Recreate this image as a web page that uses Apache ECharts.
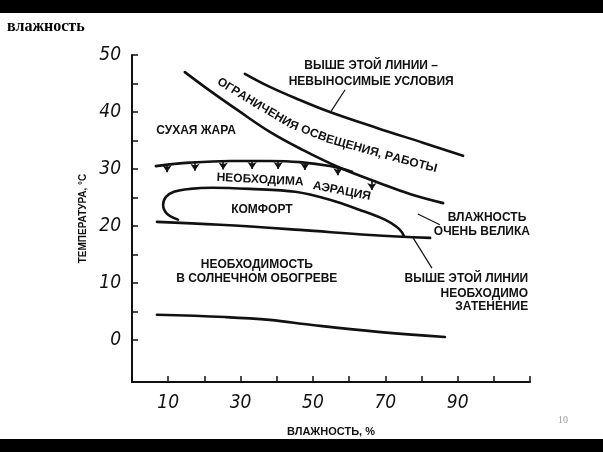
<!DOCTYPE html>
<html><head><meta charset="utf-8">
<script src="https://cdn.jsdelivr.net/npm/echarts@6/dist/echarts.min.js"></script>
<style>html,body{margin:0;padding:0;background:#fff}#c{width:603px;height:452px}</style>
</head><body><div id="c"></div>
<script>
// ---- data (x = влажность %, y = температура °C) ----
const xTickLabels = [10, 30, 50, 70, 90];
const yTickLabels = [0, 10, 20, 30, 40, 50];
const yTickMarks = [0, 5, 10, 15, 20, 25, 30, 35, 40, 45, 50];

const unbearableLine = [[31.2,46.7],[38.1,44.4],[46.4,42.1],[54.7,40.0],[67.7,37.2],[80.4,34.6],[91.5,32.3]];
const lightLimitLine = [[14.6,47.0],[21.6,43.7],[29.0,40.4],[38.1,36.5],[47.3,33.3],[57.5,30.2],[68.5,27.5],[76.8,25.6],[86.0,24.0]];
const aerationLine = [[6.6,30.5],[16.0,31.1],[27.1,31.4],[38.1,31.4],[46.4,31.2],[54.7,30.5],[60.8,29.5]];
const arrowX = [9.7, 17.4, 25.2, 33.2, 40.4, 47.8, 56.9, 66.3];
const arrowTop = [30.8, 31.1, 31.3, 31.4, 31.4, 31.2, 30.4, 27.9];
const arrowBottom = [29.4, 29.7, 29.9, 30.0, 30.0, 29.8, 28.9, 26.3];
const comfortLoop = [[12.7,21.1],[9.7,22.1],[8.6,23.7],[9.4,25.1],[11.6,26.0],[16.0,26.5],[22.1,26.7],[32.6,26.5],[45.1,26.0],[54.7,24.6],[63.0,22.8],[69.9,21.1],[73.2,19.8],[74.6,18.9],[75.2,18.1]];
const shadeLine = [[6.9,20.7],[24.3,20.2],[46.4,19.3],[65.8,18.4],[82.4,17.9]];
const solarLine = [[6.9,4.4],[25.7,4.0],[38.1,3.5],[49.8,2.6],[68.0,1.4],[86.5,0.5]];
const leaders = [
  [[58.9,43.9],[54.7,39.8]],
  [[79.0,22.1],[85.1,20.2]],
  [[77.7,17.9],[82.9,12.6]]
];
// annotation texts with anchor in data coords
const notes = [
  {t:'ВЫШЕ ЭТОЙ ЛИНИИ –', p:[66.1,48.2], a:'center', r:0},
  {t:'НЕВЫНОСИМЫЕ УСЛОВИЯ', p:[66.1,45.4], a:'center', r:0},
  {t:'СУХАЯ ЖАРА', p:[17.7,36.7], a:'center', r:0},
  {t:'НЕОБХОДИМА', p:[35.4,28.1], a:'center', r:-3},
  {t:'АЭРАЦИЯ', p:[58.0,26.1], a:'center', r:-11},
  {t:'КОМФОРТ', p:[35.9,22.8], a:'center', r:0},
  {t:'ВЛАЖНОСТЬ', p:[98.1,21.4], a:'center', r:0},
  {t:'ОЧЕНЬ ВЕЛИКА', p:[96.7,18.9], a:'center', r:0},
  {t:'НЕОБХОДИМОСТЬ', p:[34.5,13.2], a:'center', r:0},
  {t:'В СОЛНЕЧНОМ ОБОГРЕВЕ', p:[34.5,10.7], a:'center', r:0},
  {t:'ВЫШЕ ЭТОЙ ЛИНИИ', p:[109.5,10.7], a:'right', r:0},
  {t:'НЕОБХОДИМО', p:[109.5,8.1], a:'right', r:0},
  {t:'ЗАТЕНЕНИЕ', p:[109.5,5.8], a:'right', r:0}
];
const curvedText = 'ОГРАНИЧЕНИЯ ОСВЕЩЕНИЯ, РАБОТЫ';
const curvedPath = [[23.8,45.5],[34.0,41.5],[44.2,37.7],[54.7,35.1],[67.7,32.8],[76.8,31.2],[84.3,30.0]];

// ---- chart ----
const chart = echarts.init(document.getElementById('c'), null, {renderer:'canvas'});
const INK = '#111';
const LBL_FONT = '"Liberation Sans Narrow","DejaVu Sans Condensed","Liberation Sans",sans-serif';
const NOTE_FONT = 'bold 12px "Liberation Sans", Arial, sans-serif';

function curve(data, smooth){
  return {type:'line', data:data, smooth:smooth==null?0.4:smooth, symbol:'none', showSymbol:false,
    lineStyle:{color:INK, width:2.6, cap:'round'}, silent:true, z:3};
}

chart.setOption({
  animation:false,
  grid:{left:132, right:73, top:55, bottom:70, containLabel:false},
  xAxis:{type:'value', min:0, max:110, interval:10,
    name:'ВЛАЖНОСТЬ, %', nameLocation:'middle', nameGap:44,
    nameTextStyle:{color:INK, fontWeight:'bold', fontSize:11, fontFamily:'"Liberation Sans", Arial, sans-serif'},
    axisLine:{show:true, onZero:false, lineStyle:{color:INK, width:2}},
    axisTick:{show:true, inside:true, length:6, lineStyle:{color:INK, width:1.5}},
    axisLabel:{customValues:xTickLabels, color:INK, fontSize:19, fontStyle:'italic', fontFamily:LBL_FONT, margin:12},
    splitLine:{show:false}},
  yAxis:{type:'value', min:-7.4, max:50,
    name:'ТЕМПЕРАТУРА, °С', nameLocation:'middle', nameGap:38, nameRotate:90,
    nameTextStyle:{color:INK, fontWeight:'bold', fontSize:10, fontFamily:'"Liberation Sans", Arial, sans-serif'},
    axisLine:{show:true, onZero:false, lineStyle:{color:INK, width:2}},
    axisTick:{show:true, inside:true, length:6, customValues:yTickMarks, lineStyle:{color:INK, width:1.5}},
    axisLabel:{customValues:yTickLabels, color:INK, fontSize:19, fontStyle:'italic', fontFamily:LBL_FONT, margin:11},
    splitLine:{show:false}},
  series:[
    curve(unbearableLine),
    curve(lightLimitLine),
    curve(aerationLine),
    curve(comfortLoop, 0.35),
    curve(shadeLine),
    curve(solarLine),
    {type:'lines', coordinateSystem:'cartesian2d', silent:true, z:3,
      symbol:['none','arrow'], symbolSize:[0,7],
      lineStyle:{color:INK, width:1.6, opacity:1},
      data:arrowX.map((x,i)=>({coords:[[x,arrowTop[i]],[x,arrowBottom[i]]]}))},
    {type:'lines', coordinateSystem:'cartesian2d', silent:true, z:3,
      symbol:['none','none'],
      lineStyle:{color:INK, width:1.2, opacity:1},
      data:leaders.map(c=>({coords:c}))}
  ]
});

// ---- annotation graphics ----
const g = [];
g.push({type:'rect', shape:{x:0,y:0,width:603,height:13}, style:{fill:'#000'}, z:10});
g.push({type:'rect', shape:{x:0,y:439,width:603,height:13}, style:{fill:'#000'}, z:10});
g.push({type:'text', x:7, y:27, style:{text:'влажность', font:'bold 16px "Liberation Serif","Times New Roman",serif', fill:'#000', textAlign:'left', textVerticalAlign:'middle', align:'left', verticalAlign:'middle'}});
g.push({type:'text', x:563, y:420, style:{text:'10', font:'10px "Liberation Serif",serif', fill:'#999', textAlign:'center', textVerticalAlign:'middle', align:'center', verticalAlign:'middle'}});

notes.forEach(n=>{
  const p = chart.convertToPixel({gridIndex:0}, n.p);
  g.push({type:'text', x:p[0], y:p[1], rotation:n.r*Math.PI/180,
    style:{text:n.t, font:NOTE_FONT, fill:INK, textAlign:n.a, textVerticalAlign:'middle', align:n.a, verticalAlign:'middle'}, z:5});
});

// curved text along path
(function(){
  const pts = curvedPath.map(p=>chart.convertToPixel({gridIndex:0}, p));
  const seg = []; let total = 0;
  for (let i=1;i<pts.length;i++){
    const dx=pts[i][0]-pts[i-1][0], dy=pts[i][1]-pts[i-1][1];
    const l=Math.hypot(dx,dy); seg.push({l:l, a:Math.atan2(dy,dx), s:total}); total+=l;
  }
  const ctx = document.createElement('canvas').getContext('2d');
  ctx.font = NOTE_FONT;
  const chars = Array.from(curvedText);
  const w = chars.map(c=>ctx.measureText(c).width);
  const sumW = w.reduce((a,b)=>a+b,0);
  const k = total/sumW;
  let pos = 0;
  chars.forEach((c,i)=>{
    const mid = pos + w[i]*k/2; pos += w[i]*k;
    let j = 0; while (j<seg.length-1 && mid>seg[j].s+seg[j].l) j++;
    const t = (mid-seg[j].s)/seg[j].l;
    const x = pts[j][0]+(pts[j+1][0]-pts[j][0])*t;
    const y = pts[j][1]+(pts[j+1][1]-pts[j][1])*t;
    g.push({type:'text', x:x, y:y, rotation:-seg[j].a,
      style:{text:c, font:NOTE_FONT, fill:INK, textAlign:'center', textVerticalAlign:'middle', align:'center', verticalAlign:'middle'}, z:5});
  });
})();

chart.setOption({graphic:{elements:g}});
</script>
</body></html>
